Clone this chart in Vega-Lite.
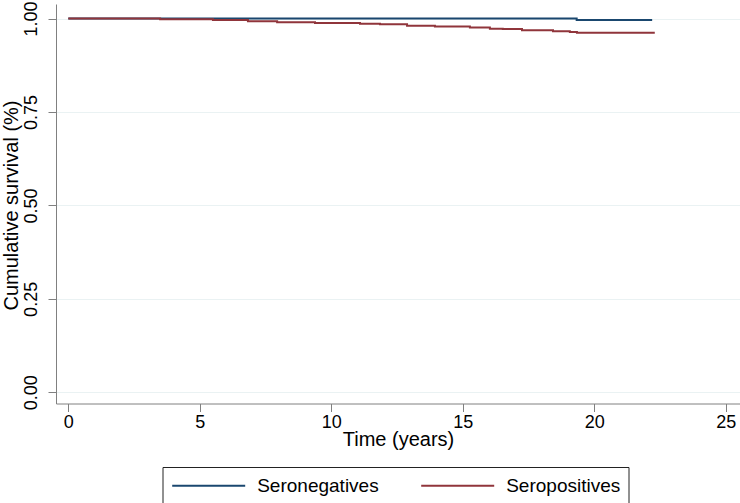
{
  "$schema": "https://vega.github.io/schema/vega-lite/v6.json",
  "width": 684,
  "height": 399.5,
  "autosize": {"type": "none"},
  "padding": {"left": 56, "top": 4, "right": 0, "bottom": 99.5},
  "background": "white",
  "config": {"view": {"stroke": null}, "font": "Liberation Sans"},
  "data": {
    "values": [
      {"group": "Seronegatives", "time": 0, "surv": 1.0},
      {"group": "Seronegatives", "time": 19.33, "surv": 0.996},
      {"group": "Seronegatives", "time": 22.2, "surv": 0.996},
      {"group": "Seropositives", "time": 0, "surv": 1.0},
      {"group": "Seropositives", "time": 3.49, "surv": 0.998},
      {"group": "Seropositives", "time": 5.5, "surv": 0.996},
      {"group": "Seropositives", "time": 6.83, "surv": 0.993},
      {"group": "Seropositives", "time": 7.94, "surv": 0.99},
      {"group": "Seropositives", "time": 9.38, "surv": 0.988},
      {"group": "Seropositives", "time": 11.09, "surv": 0.986},
      {"group": "Seropositives", "time": 11.85, "surv": 0.985},
      {"group": "Seropositives", "time": 12.88, "surv": 0.981},
      {"group": "Seropositives", "time": 13.94, "surv": 0.979},
      {"group": "Seropositives", "time": 15.27, "surv": 0.976},
      {"group": "Seropositives", "time": 16.03, "surv": 0.973},
      {"group": "Seropositives", "time": 16.52, "surv": 0.972},
      {"group": "Seropositives", "time": 17.25, "surv": 0.969},
      {"group": "Seropositives", "time": 18.43, "surv": 0.966},
      {"group": "Seropositives", "time": 19.07, "surv": 0.964},
      {"group": "Seropositives", "time": 19.34, "surv": 0.962},
      {"group": "Seropositives", "time": 22.3, "surv": 0.962}
    ]
  },
  "mark": {"type": "line", "interpolate": "step-after", "strokeWidth": 2},
  "encoding": {
    "x": {
      "field": "time",
      "type": "quantitative",
      "scale": {"domain": [-0.468, 25.54], "nice": false, "zero": false},
      "axis": {
        "title": "Time (years)",
        "values": [0, 5, 10, 15, 20, 25],
        "grid": false,
        "domainColor": "#808080",
        "tickColor": "#808080",
        "tickSize": 8,
        "labelFontSize": 18,
        "labelColor": "black",
        "labelPadding": 2,
        "titleFontSize": 20,
        "titleFontWeight": "normal",
        "titleColor": "black",
        "titleBaseline": "top",
        "titleY": 26
      }
    },
    "y": {
      "field": "surv",
      "type": "quantitative",
      "scale": {"domain": [-0.03, 1.039], "nice": false, "zero": false},
      "axis": {
        "title": "Cumulative survival (%)",
        "values": [0, 0.25, 0.5, 0.75, 1],
        "format": ".2f",
        "grid": true,
        "gridColor": "#eaf2f3",
        "gridWidth": 1,
        "domainColor": "#808080",
        "tickColor": "#808080",
        "tickWidth": 1,
        "tickSize": 8,
        "labelAngle": -90,
        "labelAlign": "center",
        "labelBaseline": "bottom",
        "labelPadding": 8,
        "labelFontSize": 18,
        "labelColor": "black",
        "titleFontSize": 20,
        "titleFontWeight": "normal",
        "titleColor": "black",
        "titleAngle": -90,
        "titleAlign": "center",
        "titleBaseline": "middle",
        "titleX": -44.5,
        "titleY": 201
      }
    },
    "color": {
      "field": "group",
      "type": "nominal",
      "scale": {"domain": ["Seronegatives", "Seropositives"], "range": ["#1a476f", "#90353b"]},
      "legend": {
        "title": null,
        "orient": "none",
        "legendX": 106.5,
        "legendY": 463,
        "direction": "horizontal",
        "columns": 2,
        "strokeColor": "#222222",
        "padding": 8,
        "symbolType": "M-4,0H4",
        "symbolSize": 333,
        "symbolStrokeWidth": 2,
        "symbolOffset": 27.7,
        "labelOffset": 38,
        "labelFontSize": 19,
        "labelColor": "black",
        "columnPadding": 37,
        "labelLimit": 300
      }
    }
  }
}
